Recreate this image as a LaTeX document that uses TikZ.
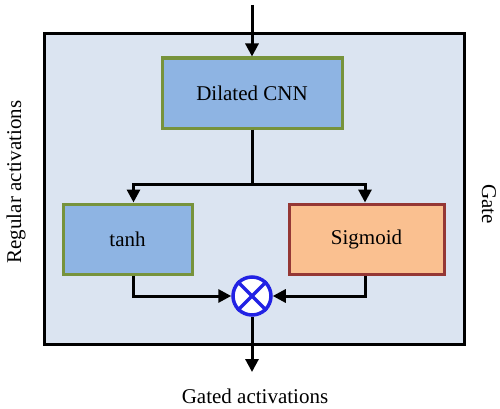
\documentclass[tikz,border=0pt]{standalone}
\usepackage{fontspec}
\setmainfont{Liberation Serif}
\usetikzlibrary{arrows.meta,positioning}
\definecolor{panelblue}{RGB}{219,228,241}
\definecolor{cellblue}{RGB}{142,180,227}
\definecolor{cellgreen}{RGB}{119,147,60}
\definecolor{cellorange}{RGB}{250,192,144}
\definecolor{cellred}{RGB}{149,55,53}
\definecolor{mulblue}{RGB}{34,34,228}

\begin{document}
\begin{tikzpicture}[
    x=1pt, y=1pt,
    cell/.style={
        rectangle, minimum height=70pt,
        draw, line width=3pt, align=center, font=\rmfamily\fontsize{21}{25}\selectfont
    },
    lbl/.style={font=\rmfamily\fontsize{21}{25}\selectfont},
    arrow/.style={-{Triangle[length=13pt,width=13pt]}, line width=3pt, black}
]
\useasboundingbox (0,0) rectangle (500,408);

% Outer panel
\node[draw, line width=3pt, fill=panelblue, minimum width=420pt, minimum height=310pt] (panel) at (254,219) {};

% Cells
\node[cell, fill=cellblue, draw=cellgreen, minimum width=180pt] (cnn) at (252,315) {Dilated CNN};
\node[cell, fill=cellblue, draw=cellgreen, minimum width=129pt] (tanh) at (127.5,169) {tanh};
\node[cell, fill=cellorange, draw=cellred, minimum width=155pt] (sig) at (366.5,169) {Sigmoid};

% Multiplication
\node[circle, draw=mulblue, line width=3.5pt, fill=white, minimum size=38pt, inner sep=0pt] (mul) at (252,112) {};
\draw[mulblue, line width=3.5pt] (mul.north west) -- (mul.south east) (mul.north east) -- (mul.south west);

% In and out
\coordinate (in) at (252,403);
\coordinate (out) at (252,36);
\coordinate (split) at (252,224);

% Arrows
\draw[arrow] (in) -- (cnn);
\draw[line width=3pt] (cnn) -- (split);
\draw[arrow] (split) -| ([xshift=6pt]tanh.north);
\draw[arrow] (split) -| ([xshift=-1.5pt]sig.north);
\draw[arrow] ([xshift=6pt]tanh.south) |- (mul);
\draw[arrow] ([xshift=-1.5pt]sig.south) |- (mul);
\draw[arrow] (mul) -- (out);

% Labels
\node[lbl] (gated) at (255,12) {Gated activations};
\node[lbl, rotate=90] (regular) at (16,226) {Regular activations};
\node[lbl, rotate=-90, inner sep=1pt] (gate) at (489,204) {Gate};

\end{tikzpicture}
\end{document}
